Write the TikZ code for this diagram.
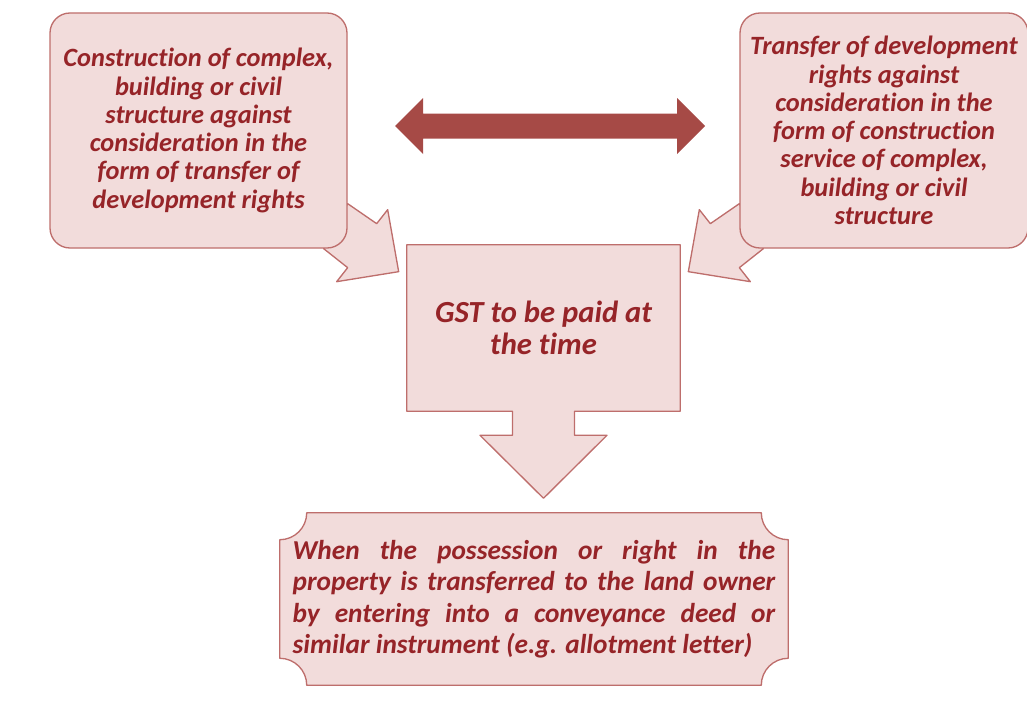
\documentclass[tikz,border=0pt]{standalone}
\usepackage{fontspec}
\setmainfont{Carlito}[Ligatures=NoCommon]
\usetikzlibrary{positioning, calc, backgrounds}

\definecolor{cardfill}{RGB}{242,220,219}
\definecolor{cardline}{RGB}{190,110,108}
\definecolor{cardtext}{RGB}{150,36,40}
\definecolor{swapfill}{RGB}{166,74,70}

\begin{document}
\begin{tikzpicture}[
    x=0.75pt, y=-0.75pt,
    card/.style={rectangle, draw=cardline, fill=cardfill, line width=1pt, rounded corners=15pt, inner sep=0pt, align=center, text=cardtext, font=\fontsize{19.8}{21.2}\selectfont\bfseries\itshape},
    plain/.style={rectangle, inner sep=0pt, text=cardtext, font=\fontsize{20.5}{23.6}\selectfont\bfseries\itshape},
    pointer/.style={draw=cardline, fill=cardfill, line width=1pt, line join=round},
    swapband/.style={fill=swapfill}
]
\useasboundingbox (0,0) rectangle (1027,717);

% Two top cards
\node[card, minimum width=222.75pt, minimum height=176.25pt] (build) at (198.5,130.5) {Construction of complex,\\building or civil\\structure against\\consideration in the\\form of transfer of\\development rights};
\node[card, minimum width=216pt, minimum height=176.25pt] (rights) at (884,130.5) {Transfer of development\\rights against\\consideration in the\\form of construction\\service of complex,\\building or civil\\structure};

% Middle box and bottom box (outlines drawn behind)
\node[plain, align=center, minimum width=204.75pt, minimum height=124.5pt, font=\fontsize{23}{24}\selectfont\bfseries\itshape] (gst) at (543.5,328) {GST to be paid at\\the time};
\node[plain, align=justify, text width=362pt, minimum width=381pt, minimum height=129pt] (deed) at (534,599) {When the possession or right in the\linebreak property is transferred to the land owner\linebreak by entering into a conveyance deed or\linebreak similar instrument (e.g. allotment letter)};

\begin{scope}[on background layer]
% Pointers of the top cards
\path[pointer] ($(build.south east)+(0,-45)$) -- ++(29,20) -- ++(11,-14) -- ++(11,62) -- ++(-62,10) -- ++(11,-14) -- ($(build.south east)+(-24,0)$) -- cycle;
\path[pointer] ($(rights.south west)+(0,-45)$) -- ++(-29,20) -- ++(-11,-14) -- ++(-11,62) -- ++(62,10) -- ++(-11,-14) -- ($(rights.south west)+(24,0)$) -- cycle;

% Box with down arrow
\path[pointer] (gst.north west) -- (gst.north east) -- (gst.south east) -- ($(gst.south)+(31,0)$) -- ++(0,24) -- ++(32.5,0) -- ($(gst.south)+(0,87)$) -- ($(gst.south)+(-63.5,24)$) -- ++(32.5,0) -- ($(gst.south)+(-31,0)$) -- (gst.south west) -- cycle;

% Plaque
\path[pointer] ($(deed.north west)+(27,0)$) -- ($(deed.north east)+(-27,0)$) arc[start angle=180, end angle=90, radius=27] -- ($(deed.south east)+(0,-27)$) arc[start angle=270, end angle=180, radius=27] -- ($(deed.south west)+(27,0)$) arc[start angle=0, end angle=-90, radius=27] -- ($(deed.north west)+(0,27)$) arc[start angle=90, end angle=0, radius=27] -- cycle;
\end{scope}

% Double arrow between the cards
\coordinate (swap) at ($(build.east)!0.5!(rights.west)+(6.5,-4.5)$);
\path[swapband] ($(swap)+(-155,0)$) -- ++(28,-28) -- ++(0,15.5) -- ++(254,0) -- ++(0,-15.5) -- ++(28,28) -- ++(-28,28) -- ++(0,-15.5) -- ++(-254,0) -- ++(0,15.5) -- cycle;

\end{tikzpicture}
\end{document}
